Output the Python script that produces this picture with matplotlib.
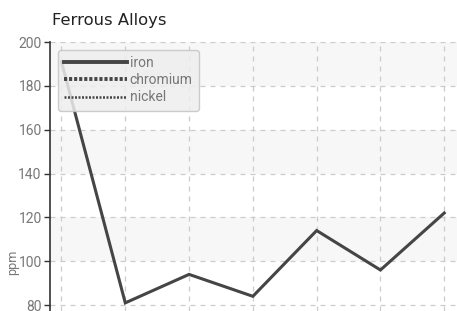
import matplotlib
matplotlib.use("Agg")
import matplotlib.pyplot as plt
from matplotlib.lines import Line2D

# ── data ──────────────────────────────────────────────────────────────────────
samples = [1, 2, 3, 4, 5, 6, 7]
iron = [191, 81, 94, 84, 114, 96, 122]
chromium = []
nickel = []
y_ticks = [80, 100, 120, 140, 160, 180, 200]

FONT = ["Liberation Sans Narrow", "Roboto", "DejaVu Sans"]
plt.rcParams["font.family"] = FONT

fig = plt.figure(figsize=(4.57, 3.11), dpi=100)
W, H = 457, 311
ax = fig.add_axes([50 / W, 0, (W - 50) / W, (H - 42) / H])

# alternating horizontal bands (shaded every other interval from the top)
for lo, hi in [(180, 200), (140, 160), (100, 120)]:
    ax.axhspan(lo, hi, color="#f7f7f7", zorder=0, linewidth=0)

ax.plot(range(len(samples)), iron, color="#454545", linewidth=2.2,
        solid_joinstyle="miter", zorder=3)
ax.plot(chromium, chromium, color="#454545", linewidth=2.2, linestyle=":")
ax.plot(nickel, nickel, color="#454545", linewidth=1.5, linestyle=":")

ax.set_xlim(-0.18, 6.2)
ax.set_ylim(77.3, 200)
ax.set_yticks(y_ticks)
ax.set_xticks(range(len(samples)))
ax.tick_params(axis="x", length=0, labelbottom=False)
ax.tick_params(axis="y", labelsize=10, colors="#333333", labelcolor="#777777",
               length=4, width=1, pad=2)
ax.grid(True, color="#cccccc", linestyle=(0, (4, 4)), linewidth=0.9)
ax.set_axisbelow(True)
for s in ["top", "right", "bottom"]:
    ax.spines[s].set_visible(False)
ax.spines["left"].set_color("#333333")
ax.spines["left"].set_linewidth(1.2)

ax.set_ylabel("ppm", fontsize=9, color="#777777")
ax.yaxis.set_label_coords(-31 / 407, (311 - 262) / 269)

fig.text(52 / W, 1 - 20 / H, "Ferrous Alloys", fontsize=11.8, color="#222222",
         family="DejaVu Sans", va="center", ha="left")

handles = [
    Line2D([], [], color="#454545", linewidth=2.8),
    Line2D([], [], color="#454545", linewidth=2.8, linestyle=(0, (0.8, 0.5))),
    Line2D([], [], color="#454545", linewidth=1.8, linestyle=(0, (0.8, 0.6))),
]
leg = ax.legend(handles, ["iron", "chromium", "nickel"], loc="upper left",
                bbox_to_anchor=(8 / 407, 1 - 8 / 269), fontsize=10,
                handlelength=4.5, handletextpad=0.2, labelspacing=0.22,
                borderpad=0.45, borderaxespad=0, frameon=True, fancybox=True,
                facecolor="#eeeeee", edgecolor="#c4c4c4", framealpha=0.85)
for t in leg.get_texts():
    t.set_color("#777777")

fig.savefig("out.png", dpi=100)
